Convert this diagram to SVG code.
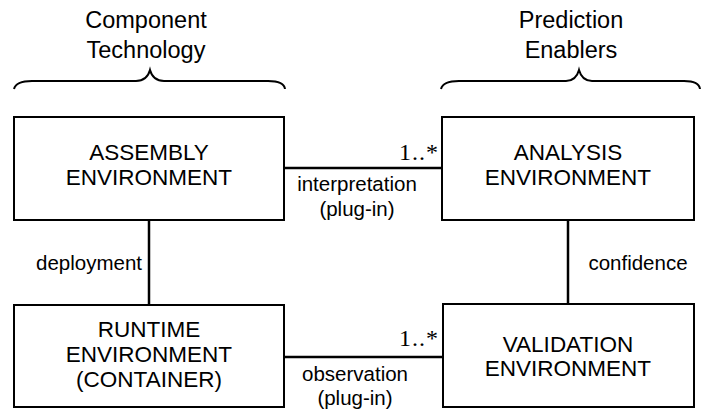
<svg xmlns="http://www.w3.org/2000/svg" width="702" height="411" viewBox="0 0 702 411">
<style>
.box{fill:#fff;stroke:#000;stroke-width:2}
.t{font-family:"Liberation Sans",Arial,sans-serif;font-size:22.5px;fill:#000;text-anchor:middle}
.h{font-family:"Liberation Sans",Arial,sans-serif;font-size:23.5px;fill:#000;text-anchor:middle}
.lbl{font-family:"Liberation Sans",Arial,sans-serif;font-size:20.5px;fill:#000;text-anchor:middle}
.m{font-family:"Liberation Serif","Times New Roman",serif;font-size:24px;fill:#000;text-anchor:end;letter-spacing:1px}
.c{fill:none;stroke:#000;stroke-width:2.5}
.br{fill:none;stroke:#000;stroke-width:2}
</style>
<rect width="702" height="411" fill="#fff"/>
<g id="header-left">
<text class="h" x="146" y="28">Component</text>
<text class="h" x="146" y="58">Technology</text>
<path class="br" d="M14,89 Q16,81 32,81 L136,81 Q147,81 150,70 Q153,81 164,81 L268,81 Q284,81 285,89"/>
</g>
<g id="header-right">
<text class="h" x="571" y="28">Prediction</text>
<text class="h" x="571" y="58">Enablers</text>
<path class="br" d="M441,89 Q443,81 459,81 L566,81 Q576,81 579,70 Q582,81 592,81 L684,81 Q699,81 700,89"/>
</g>
<g id="connectors">
<line class="c" x1="284" y1="168" x2="442" y2="168"/>
<line class="c" x1="284" y1="357" x2="443" y2="357"/>
<line class="c" x1="149" y1="220" x2="149" y2="305"/>
<line class="c" x1="568" y1="220" x2="568" y2="304"/>
<text class="lbl" x="357" y="191">interpretation</text>
<text class="lbl" x="357" y="216">(plug-in)</text>
<text class="lbl" x="355" y="381">observation</text>
<text class="lbl" x="355" y="405">(plug-in)</text>
<text class="lbl" x="89" y="270">deployment</text>
<text class="lbl" x="638" y="270">confidence</text>
<text class="m" x="439" y="160">1..*</text>
<text class="m" x="439" y="346">1..*</text>
</g>
<g id="assembly">
<rect class="box" x="14" y="117" width="270" height="103"/>
<text class="t" x="149" y="160">ASSEMBLY</text>
<text class="t" x="149" y="185">ENVIRONMENT</text>
</g>
<g id="analysis">
<rect class="box" x="442" y="117" width="252" height="103"/>
<text class="t" x="568" y="160">ANALYSIS</text>
<text class="t" x="568" y="185">ENVIRONMENT</text>
</g>
<g id="runtime">
<rect class="box" x="14" y="305" width="270" height="102"/>
<text class="t" x="149" y="337">RUNTIME</text>
<text class="t" x="149" y="362">ENVIRONMENT</text>
<text class="t" x="149" y="387">(CONTAINER)</text>
</g>
<g id="validation">
<rect class="box" x="443" y="304" width="251" height="103"/>
<text class="t" x="568" y="352">VALIDATION</text>
<text class="t" x="568" y="376">ENVIRONMENT</text>
</g>
</svg>
